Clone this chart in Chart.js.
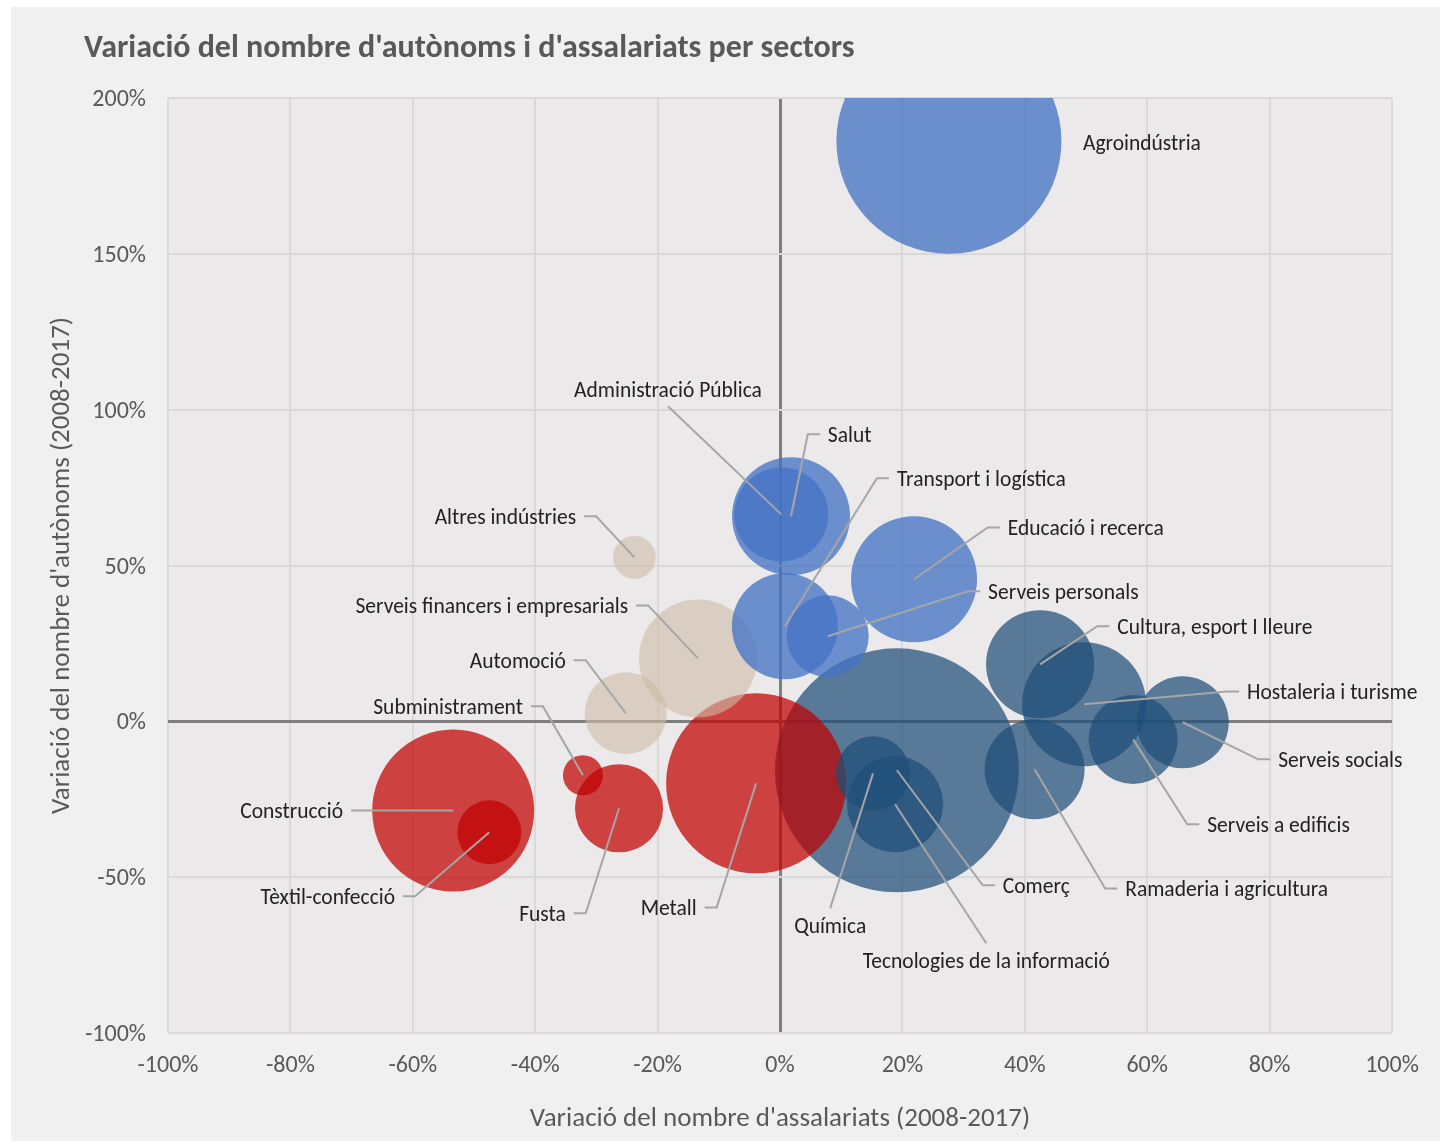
<!DOCTYPE html>
<html lang="ca">
<head>
<meta charset="utf-8">
<title>Variació del nombre d'autònoms i d'assalariats per sectors</title>
<script src="https://cdn.jsdelivr.net/npm/chart.js@4.4.1/dist/chart.umd.min.js"></script>
<style>
  html, body { margin: 0; padding: 0; background: #fff; }
  #wrap { width: 1446px; height: 1147px; }
</style>
</head>
<body>
<div id="wrap"><canvas id="sectorsChart" width="1446" height="1147"></canvas></div>
<script>
// Variació 2008-2017 per sector (en %)
const sectors = [
  "Agroindústria", "Salut", "Administració Pública", "Transport i logística",
  "Serveis personals", "Educació i recerca", "Altres indústries",
  "Serveis financers i empresarials", "Automoció", "Subministrament",
  "Construcció", "Tèxtil-confecció", "Fusta", "Metall", "Comerç", "Química",
  "Tecnologies de la informació", "Ramaderia i agricultura",
  "Cultura, esport I lleure", "Hostaleria i turisme", "Serveis a edificis",
  "Serveis socials",
];
const salaried = [
  27.6, 1.8, 0.2, 0.8, 7.8, 21.9, -23.8, -13.4, -25.2, -32.2,
  -53.4, -47.5, -26.3, -3.9, 19.1, 15.2, 18.8, 41.6, 42.5, 49.7, 57.7, 65.8,
];
const selfEmployed = [
  186.1, 65.8, 66.4, 30.5, 27.3, 45.6, 52.6, 20.2, 2.6, -17.3,
  -28.6, -35.6, -27.9, -19.9, -15.7, -16.7, -26.6, -15.4, 18.3, 5.5, -5.8, -0.3,
];
const bubbleSize = [
  126.6, 34.8, 22.1, 28.1, 16.8, 39.7, 4.6, 34.8, 16.8, 4.0,
  65.6, 10.2, 19.4, 81.0, 148.8, 13.7, 23.0, 25.0, 29.2, 38.4, 19.8, 21.2,
];
const sectorGroup = [
  "blau", "blau", "blau", "blau", "blau", "blau", "beix", "beix", "beix", "vermell",
  "vermell", "vermell", "vermell", "vermell", "blauFosc", "blauFosc", "blauFosc",
  "blauFosc", "blauFosc", "blauFosc", "blauFosc", "blauFosc",
];
const xTicks = [-100, 100, 20];
const yTicks = [-100, 200, 50];

const groupColors = {
  blau: "rgba(68, 114, 196, 0.77)",
  blauFosc: "rgba(31, 78, 121, 0.72)",
  beix: "rgba(205, 188, 165, 0.6)",
  vermell: "rgba(192, 0, 0, 0.72)",
};

// where each callout sits (axis units) and on which side of its leader the text goes
const labelPlacement = {
  "Agroindústria": { x: 49.5, y: 185.8, side: "none" },
  "Administració Pública": { x: -18.3, y: 101.1, side: "top" },
  "Salut": { x: 6.5, y: 92.1, side: "right" },
  "Transport i logística": { x: 17.8, y: 78.0, side: "right" },
  "Educació i recerca": { x: 35.9, y: 62.2, side: "right" },
  "Serveis personals": { x: 32.7, y: 41.7, side: "right" },
  "Cultura, esport I lleure": { x: 53.8, y: 30.5, side: "right" },
  "Hostaleria i turisme": { x: 75.0, y: 9.6, side: "right" },
  "Serveis socials": { x: 80.1, y: -12.2, side: "right" },
  "Serveis a edificis": { x: 68.5, y: -33.0, side: "right" },
  "Ramaderia i agricultura": { x: 55.1, y: -53.6, side: "right" },
  "Comerç": { x: 35.1, y: -52.6, side: "right" },
  "Tecnologies de la informació": { x: 33.7, y: -71.2, side: "bottom" },
  "Química": { x: 8.2, y: -60.0, side: "bottom" },
  "Metall": { x: -12.3, y: -59.7, side: "left" },
  "Fusta": { x: -33.7, y: -61.6, side: "left" },
  "Tèxtil-confecció": { x: -61.6, y: -56.1, side: "left" },
  "Construcció": { x: -70.1, y: -28.6, side: "left" },
  "Subministrament": { x: -40.7, y: 4.8, side: "left" },
  "Automoció": { x: -33.7, y: 19.6, side: "left" },
  "Serveis financers i empresarials": { x: -23.5, y: 37.2, side: "left" },
  "Altres indústries": { x: -32.0, y: 65.8, side: "left" },
};

const FONT = "Carlito, Lato, sans-serif";
Chart.defaults.font.family = FONT;

// big bubbles first so the small ones stay on top
const points = sectors
  .map((name, i) => ({
    x: salaried[i],
    y: selfEmployed[i],
    r: 10 * Math.sqrt(bubbleSize[i]),
    name,
    color: groupColors[sectorGroup[i]],
  }))
  .sort((a, b) => b.r - a.r);

const panelBackground = {
  id: "panelBackground",
  beforeDraw(chart) {
    const { ctx, chartArea: a } = chart;
    ctx.save();
    ctx.fillStyle = "#ffffff";
    ctx.fillRect(0, 0, chart.width, chart.height);
    ctx.fillStyle = "#f0f0f0";
    ctx.fillRect(11, 7, 1429, 1134);
    ctx.fillStyle = "#ebe9ea";
    ctx.fillRect(a.left, a.top, a.right - a.left, a.bottom - a.top);
    ctx.restore();
  },
};

const heading = {
  id: "heading",
  afterDraw(chart, args, opts) {
    const { ctx } = chart;
    ctx.save();
    ctx.font = "bold 32px " + FONT;
    ctx.fillStyle = "#595959";
    ctx.textAlign = "left";
    ctx.textBaseline = "middle";
    ctx.fillText(opts.text, 84, 49);
    ctx.restore();
  },
};

const callouts = {
  id: "callouts",
  afterDatasetsDraw(chart) {
    const { ctx, scales: { x, y } } = chart;
    ctx.save();
    ctx.font = "21.5px " + FONT;
    ctx.textBaseline = "middle";
    ctx.lineWidth = 2;
    ctx.strokeStyle = "#a6a6a6";
    sectors.forEach((name, i) => {
      const place = labelPlacement[name];
      const cx = x.getPixelForValue(salaried[i]);
      const cy = y.getPixelForValue(selfEmployed[i]);
      const ax = x.getPixelForValue(place.x);
      const ay = y.getPixelForValue(place.y);

      if (place.side !== "none") {
        ctx.beginPath();
        ctx.moveTo(ax, ay);
        if (place.side === "left") ctx.lineTo(ax + 12, ay);
        if (place.side === "right") ctx.lineTo(ax - 12, ay);
        ctx.lineTo(cx, cy);
        ctx.stroke();
      }

      // text sits a touch low of the leader, like the glyph centre of the labels
      const ty = ay + 2;
      ctx.fillStyle = "#222222";
      if (place.side === "left") {
        ctx.textAlign = "right";
        ctx.fillText(name, ax - 8, ty);
      } else if (place.side === "right") {
        ctx.textAlign = "left";
        ctx.fillText(name, ax + 8, ty);
      } else if (place.side === "top") {
        ctx.textAlign = "center";
        ctx.fillText(name, ax, ty - 17);
      } else if (place.side === "bottom") {
        ctx.textAlign = "center";
        ctx.fillText(name, ax, ty + 17);
      } else {
        ctx.textAlign = "left";
        ctx.fillText(name, ax, ty);
      }
    });
    ctx.restore();
  },
};

const gridColor = (c) => (c.tick.value === 0 ? "#7f7f7f" : "#d9d9d9");
const gridWidth = (c) => (c.tick.value === 0 ? 3 : 2);

// fixed axis boxes, no extra room for overhanging tick labels
const fixAxis = (size) => (s) => {
  if (s.isHorizontal()) s.height = size;
  else s.width = size;
  s.paddingLeft = s.paddingRight = s.paddingTop = s.paddingBottom = 0;
};

const ctx = document.getElementById("sectorsChart").getContext("2d");

const chart = new Chart(ctx, {
  type: "bubble",
  data: {
    datasets: [
      {
        data: points,
        backgroundColor: points.map((p) => p.color),
        borderWidth: 0,
        hoverBorderWidth: 0,
        clip: 0,
      },
    ],
  },
  options: {
    responsive: false,
    animation: false,
    events: [],
    layout: {
      autoPadding: false,
      padding: { top: 98, right: 54, left: 40, bottom: 13 },
    },
    plugins: {
      legend: { display: false },
      tooltip: { enabled: false },
      heading: { text: "Variació del nombre d'autònoms i d'assalariats per sectors" },
    },
    scales: {
      x: {
        type: "linear",
        min: xTicks[0],
        max: xTicks[1],
        afterFit: fixAxis(101),
        ticks: {
          stepSize: xTicks[2],
          padding: 19,
          color: "#595959",
          font: { size: 24 },
          callback: (v) => v + "%",
        },
        grid: { color: gridColor, lineWidth: gridWidth, drawTicks: false },
        border: { display: false },
        title: {
          display: true,
          text: "Variació del nombre d'assalariats (2008-2017)",
          color: "#595959",
          font: { size: 27 },
          padding: { top: 0, bottom: -1 },
        },
      },
      y: {
        type: "linear",
        min: yTicks[0],
        max: yTicks[1],
        afterFit: fixAxis(128),
        ticks: {
          stepSize: yTicks[2],
          padding: 22,
          labelOffset: 2,
          color: "#595959",
          font: { size: 24 },
          callback: (v) => v + "%",
        },
        grid: { color: gridColor, lineWidth: gridWidth, drawTicks: false },
        border: { display: false },
        title: {
          display: true,
          text: "Variació del nombre d'autònoms (2008-2017)",
          color: "#595959",
          font: { size: 27 },
          padding: { top: 6, bottom: 0 },
        },
      },
    },
  },
  plugins: [panelBackground, heading, callouts],
});
</script>
</body>
</html>
